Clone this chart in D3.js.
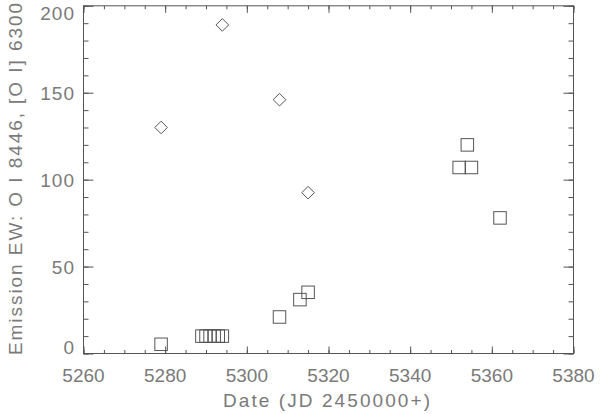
<!DOCTYPE html>
<html><head><meta charset="utf-8">
<script src="https://cdn.jsdelivr.net/npm/d3@7"></script>
<style>html,body{margin:0;padding:0;background:#fff;}svg{display:block;}</style>
</head><body>
<svg id="chart" width="600" height="414"></svg>
<script>
// [O I] 6300 (diamonds)
const diamondDates = [5279, 5294, 5308, 5315];
const diamondEW    = [130, 189, 146, 92.5];
// O I 8446 (squares)
const squareDates = [5279, 5289, 5290, 5291, 5292, 5293, 5294, 5308, 5313, 5315, 5352, 5354, 5355, 5362];
const squareEW    = [5.3, 10, 10, 10, 10, 10, 10, 21, 31, 35.2, 107, 120, 107, 78];
const xTickValues = [5260, 5280, 5300, 5320, 5340, 5360, 5380];
const yTickValues = [0, 50, 100, 150, 200];
const xLabel = "Date (JD 2450000+)";
const yLabel = "Emission EW: O I 8446, [O I] 6300";

const svg = d3.select("#chart");
const L = 83.5, R = 573.5, T = 5.8, B = 353.5;
const x = d3.scaleLinear().domain([5260, 5380]).range([L, R]);
const y = d3.scaleLinear().domain([0, 200]).range([B, T]);
const ink = "#555", txt = "#7a7a7a";
const font = "'Liberation Sans', Arial, sans-serif";

const xMinor = d3.range(5260, 5381, 5);
const yMinor = d3.range(0, 201, 10);

// frame
svg.append("rect").attr("x", L).attr("y", T).attr("width", R - L).attr("height", B - T)
  .attr("fill", "none").attr("stroke", ink).attr("stroke-width", 1);

// axes via d3 axis generators (ticks inward, no labels)
function styleAx(g){ g.select(".domain").remove(); g.selectAll("line").attr("stroke", ink).attr("stroke-width",1); g.selectAll("text").remove(); }
svg.append("g").attr("transform", `translate(0,${B})`)
  .call(d3.axisTop(x).tickValues(xMinor).tickSize(3.5).tickFormat("")).call(styleAx);
svg.append("g").attr("transform", `translate(0,${B})`)
  .call(d3.axisTop(x).tickValues(xTickValues).tickSize(7).tickFormat("")).call(styleAx);
svg.append("g").attr("transform", `translate(0,${T})`)
  .call(d3.axisBottom(x).tickValues(xMinor).tickSize(3.5).tickFormat("")).call(styleAx);
svg.append("g").attr("transform", `translate(0,${T})`)
  .call(d3.axisBottom(x).tickValues(xTickValues).tickSize(7).tickFormat("")).call(styleAx);
svg.append("g").attr("transform", `translate(${L},0)`)
  .call(d3.axisRight(y).tickValues(yMinor).tickSize(5).tickFormat("")).call(styleAx);
svg.append("g").attr("transform", `translate(${L},0)`)
  .call(d3.axisRight(y).tickValues(yTickValues).tickSize(10).tickFormat("")).call(styleAx);
svg.append("g").attr("transform", `translate(${R},0)`)
  .call(d3.axisLeft(y).tickValues(yMinor).tickSize(5).tickFormat("")).call(styleAx);
svg.append("g").attr("transform", `translate(${R},0)`)
  .call(d3.axisLeft(y).tickValues(yTickValues).tickSize(10).tickFormat("")).call(styleAx);

// tick labels
svg.append("g").selectAll("text").data(xTickValues).join("text")
  .attr("x", d => x(d)).attr("y", 382).attr("text-anchor", "middle")
  .attr("font-family", font).attr("font-size", 19).attr("fill", txt).text(d => d);
svg.append("g").selectAll("text").data(yTickValues).join("text")
  .attr("x", 75).attr("y", d => Math.min(Math.max(y(d) + 7, T + 14), B))
  .attr("text-anchor", "end")
  .attr("font-family", font).attr("font-size", 19).attr("fill", txt)
  .attr("letter-spacing", 1).text(d => d);

// axis titles
svg.append("text").attr("x", (L + R) / 2 - 2).attr("y", 407).attr("text-anchor", "middle")
  .attr("font-family", font).attr("font-size", 19).attr("fill", txt)
  .attr("textLength", 207).attr("lengthAdjust", "spacing").text(xLabel);
svg.append("text").attr("transform", "translate(22,179) rotate(-90)").attr("text-anchor", "middle")
  .attr("font-family", font).attr("font-size", 19).attr("fill", txt)
  .attr("textLength", 352).attr("lengthAdjust", "spacing").text(yLabel);

// markers
const sq = 12.5;
svg.append("g").selectAll("rect").data(squareDates.map((d, i) => [d, squareEW[i]])).join("rect")
  .attr("x", d => x(d[0]) - sq / 2).attr("y", d => y(d[1]) - sq / 2)
  .attr("width", sq).attr("height", sq)
  .attr("fill", "none").attr("stroke", ink).attr("stroke-width", 1);
const dh = 6.3;
svg.append("g").selectAll("path").data(diamondDates.map((d, i) => [d, diamondEW[i]])).join("path")
  .attr("d", d => { const cx = x(d[0]), cy = y(d[1]);
    return `M${cx},${cy - dh}L${cx + dh},${cy}L${cx},${cy + dh}L${cx - dh},${cy}Z`; })
  .attr("fill", "none").attr("stroke", ink).attr("stroke-width", 1);
</script>
</body></html>
